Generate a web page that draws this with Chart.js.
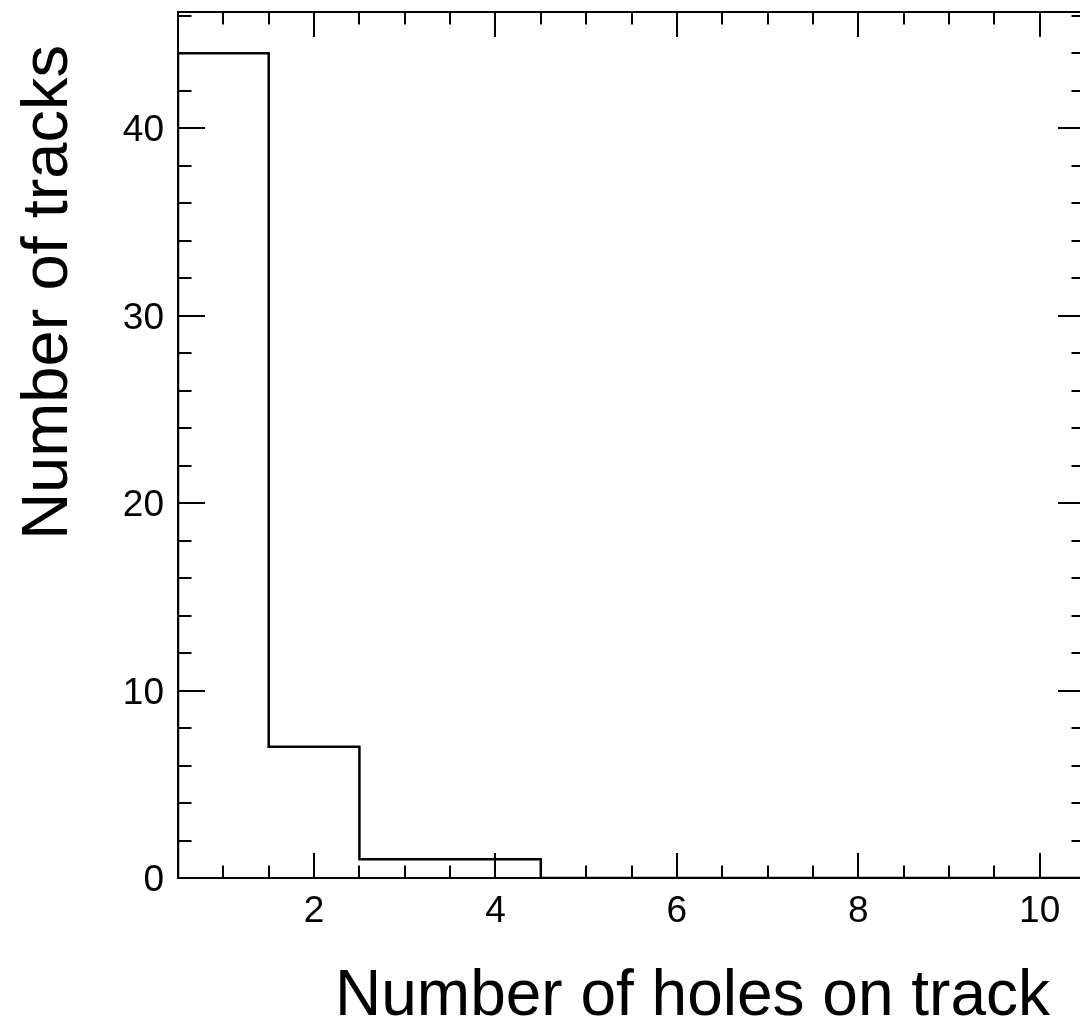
<!DOCTYPE html>
<html>
<head>
<meta charset="utf-8">
<title>Number of holes on track</title>
<script src="https://cdn.jsdelivr.net/npm/chart.js@4/dist/chart.umd.min.js"></script>
<style>
  html, body { margin: 0; padding: 0; background: #fff; overflow: hidden; }
  #wrap { width: 1100px; height: 1023px; }
</style>
</head>
<body>
<div id="wrap"><canvas id="hist" width="1100" height="1023"></canvas></div>
<script>
// Histogram contents: one bin per hole count
const holes  = [1, 2, 3, 4, 5, 6, 7, 8, 9, 10];
const tracks = [44, 7, 1, 1, 0, 0, 0, 0, 0, 0];

// Axis ranges and labelled ticks
const xRange = [0.5, 10.5];
const yRange = [0, 46.2];
const xTickLabels = [2, 4, 6, 8, 10];
const yTickLabels = [0, 10, 20, 30, 40];
const xMinorStep = 0.5;
const yMinorStep = 2;

const xTitle = 'Number of holes on track';
const yTitle = 'Number of tracks';

const FONT = '"Liberation Sans", Arial, Helvetica, sans-serif';

// Step outline: each bin starts at its lower edge, last point closes the top edge
const binWidth = holes[1] - holes[0];
const outline = [{ x: holes[0] - binWidth / 2, y: 0 }];
holes.forEach((h, i) => outline.push({ x: h - binWidth / 2, y: tracks[i] }));
outline.push({ x: holes[holes.length - 1] + binWidth / 2, y: tracks[tracks.length - 1] });

// Frame, inward tick marks and axis titles in the usual physics-plot style
const framePlugin = {
  id: 'frame',
  afterDraw(chart) {
    const { ctx, chartArea: a, scales } = chart;
    const xs = scales.x, ys = scales.y;
    ctx.save();
    ctx.strokeStyle = '#000';
    ctx.lineWidth = 2;
    ctx.strokeRect(a.left, a.top, a.right - a.left, a.bottom - a.top);

    const xMajor = 25, xMinor = 12.5, yMajor = 27, yMinor = 13.5;
    ctx.beginPath();
    for (let v = xRange[0]; v <= xRange[1] + 1e-9; v += xMinorStep) {
      const px = Math.round(xs.getPixelForValue(v));
      const len = xTickLabels.includes(v) ? xMajor : xMinor;
      ctx.moveTo(px, a.bottom); ctx.lineTo(px, a.bottom - len);
      ctx.moveTo(px, a.top);    ctx.lineTo(px, a.top + len);
    }
    for (let v = yRange[0]; v <= yRange[1] + 1e-9; v += yMinorStep) {
      const py = Math.round(ys.getPixelForValue(v));
      const len = yTickLabels.includes(v) ? yMajor : yMinor;
      ctx.moveTo(a.left, py);  ctx.lineTo(a.left + len, py);
      ctx.moveTo(a.right, py); ctx.lineTo(a.right - len, py);
    }
    ctx.stroke();

    ctx.fillStyle = '#000';
    ctx.textBaseline = 'alphabetic';
    ctx.textAlign = 'right';
    ctx.font = '64px ' + FONT;
    ctx.fillText(xTitle, 1050, 1015);

    ctx.font = '65px ' + FONT;
    ctx.translate(67, 45);
    ctx.rotate(-Math.PI / 2);
    ctx.fillText(yTitle, 0, 0);
    ctx.restore();
  }
};

new Chart(document.getElementById('hist'), {
  type: 'line',
  data: {
    datasets: [{
      data: outline,
      stepped: 'before',
      borderColor: '#000',
      borderWidth: 2.5,
      pointRadius: 0,
      fill: false
    }]
  },
  options: {
    responsive: false,
    animation: false,
    devicePixelRatio: 1,
    layout: { padding: { top: 12, right: 15, left: 0, bottom: 0 } },
    plugins: { legend: { display: false }, tooltip: { enabled: false } },
    scales: {
      x: {
        type: 'linear',
        min: xRange[0],
        max: xRange[1],
        afterBuildTicks(scale) { scale.ticks = xTickLabels.map(v => ({ value: v })); },
        afterFit(scale) {
          scale.height = 145;
          scale.paddingLeft = 0; scale.paddingRight = 0;
        },
        grid: { display: false, drawTicks: false },
        border: { display: false },
        ticks: { color: '#000', padding: 12, font: { family: FONT, size: 37 } }
      },
      y: {
        type: 'linear',
        min: yRange[0],
        max: yRange[1],
        afterBuildTicks(scale) { scale.ticks = yTickLabels.map(v => ({ value: v })); },
        afterFit(scale) {
          scale.width = 178;
          scale.paddingTop = 0; scale.paddingBottom = 0;
        },
        grid: { display: false, drawTicks: false },
        border: { display: false },
        ticks: { color: '#000', padding: 14, labelOffset: 3, font: { family: FONT, size: 37 } }
      }
    }
  },
  plugins: [framePlugin]
});
</script>
</body>
</html>
